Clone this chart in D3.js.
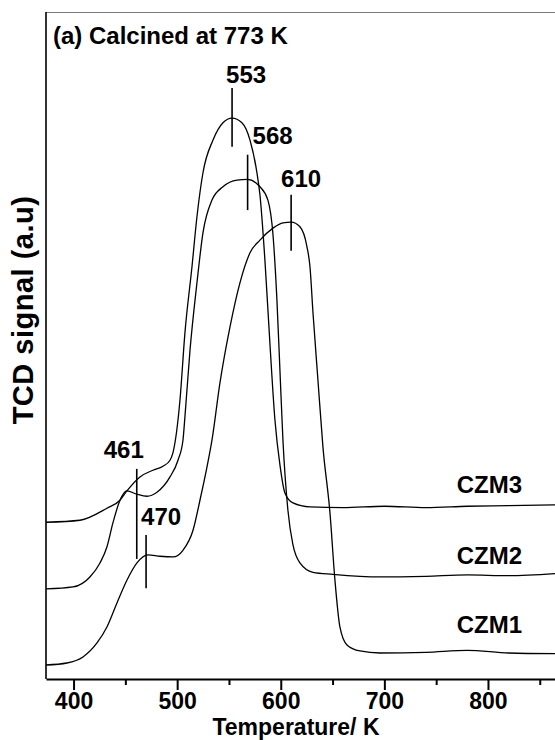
<!DOCTYPE html>
<html>
<head>
<meta charset="utf-8">
<script src="https://cdn.jsdelivr.net/npm/d3@7"></script>
<style>
  body { margin: 0; background: #fff; }
  svg { display: block; }
  text { font-family: "Liberation Sans", Arial, Helvetica, sans-serif; font-weight: bold; fill: #000; }
</style>
</head>
<body>
<svg id="chart" width="555" height="740"></svg>
<script>
// TPR profiles: [temperature (K), TCD signal (a.u.)]
const czm3 = [[373.4,23.5],[406.2,23.8],[432.2,25.6],[444.8,26.8],[451.5,28.2],[464.1,30.3],[476.6,31.3],[486.3,31.9],[493.1,32.8],[495.9,33.9],[502.7,41.8],[507.5,51.9],[514.3,61.8],[519.1,69.3],[524.9,75.9],[534.6,80.8],[544.2,83.4],[553,84.1],[562.5,83.4],[570.3,80.8],[577.0,75.9],[579.9,72.6],[584.7,62.8],[589.6,50.1],[594.4,38.8],[599.2,32.1],[604.0,27.9],[611.8,26.4],[628.2,25.8],[660,25.7],[700,25.9],[740,25.7],[780,25.9],[820,26.0],[864.7,26.1]];
const czm2 = [[373.4,13.5],[399.4,13.8],[415.8,15.3],[425.5,17.4],[432.2,19.8],[438.0,23.4],[444.8,26.8],[451.5,28.2],[461.2,27.7],[470.8,27.4],[480.5,28.0],[493.1,30.3],[500.8,32.8],[505.6,35.8],[507.5,39.3],[512.4,49.3],[519.1,59.4],[524.9,66.9],[533.6,71.8],[544.2,73.8],[557.7,74.8],[568,74.9],[579.9,73.8],[587.6,71.8],[592.5,66.6],[596.3,56.8],[599.2,46.3],[602.1,35.8],[606.9,25.3],[611.8,20.1],[618.5,17.4],[631.1,16.0],[650.4,15.7],[695.8,15.3],[740,15.4],[780,15.6],[820,15.5],[864.7,15.8]];
const czm1 = [[373.4,2.1],[393.6,2.4],[409.1,3.3],[422.6,5.4],[432.2,7.8],[441.9,11.4],[451.5,14.8],[461.2,17.4],[471.8,18.6],[483.4,18.4],[495.9,18.3],[505.6,19.3],[515.3,22.3],[522.0,26.8],[528.8,31.8],[533.6,35.8],[541.3,44.4],[551.0,52.8],[560.6,59.4],[570.3,63.9],[579.9,65.8],[592.5,67.6],[602.1,68.4],[610,68.5],[618.5,67.8],[625.3,64.8],[628.2,61.8],[631.1,54.9],[635.9,44.8],[640.7,34.8],[647.5,24.9],[652.3,14.8],[657.1,7.8],[663.9,5.1],[676.4,4.2],[695.8,3.9],[740,4.0],[780,4.3],[820,3.9],[864.7,3.8]];

const seriesNames = ["CZM1", "CZM2", "CZM3"];
const seriesData = [czm1, czm2, czm3];

// Peak maxima marked with vertical bars: temperature and signal span of each bar
const peakTemps = [553, 568, 610, 461, 470];
const peakTop = [88.6, 78.6, 72.6, 31.5, 21.6];
const peakBottom = [79.8, 70.3, 64.2, 18.0, 13.6];

const majorTicks = [400, 500, 600, 700, 800];
const minorTicks = [450, 550, 650, 750, 850];

const panelTitle = "(a) Calcined at 773 K";
const xTitle = "Temperature/ K";
const yTitle = "TCD signal (a.u)";

const plot = { left: 46, top: 12, right: 555, bottom: 679 };

const svg = d3.select("#chart");
const x = d3.scaleLinear().domain([373.4, 864.7]).range([plot.left, plot.right]);
const y = d3.scaleLinear().domain([0, 100]).range([plot.bottom, plot.top]);

// frame: thin grey top edge, black left edge
svg.append("line").attr("x1", plot.left).attr("x2", plot.right)
  .attr("y1", plot.top + 0.5).attr("y2", plot.top + 0.5)
  .attr("stroke", "#7a7a7a").attr("stroke-width", 1.2);
svg.append("line").attr("x1", plot.left).attr("x2", plot.left)
  .attr("y1", plot.top).attr("y2", plot.bottom)
  .attr("stroke", "#000").attr("stroke-width", 1.6);

// x axis: labelled major ticks plus unlabelled minor ticks
const xAxis = svg.append("g").attr("transform", `translate(0,${plot.bottom})`)
  .call(d3.axisBottom(x).tickValues(majorTicks).tickSize(11).tickSizeOuter(0).tickPadding(3).tickFormat(d3.format("d")));
xAxis.select(".domain").attr("stroke-width", 2);
xAxis.selectAll(".tick line").attr("stroke-width", 2);
xAxis.selectAll(".tick text").attr("font-size", 23).attr("font-family", null);
const xMinor = svg.append("g").attr("transform", `translate(0,${plot.bottom})`)
  .call(d3.axisBottom(x).tickValues(minorTicks).tickSize(6).tickFormat(""));
xMinor.select(".domain").remove();
xMinor.selectAll(".tick line").attr("stroke-width", 2);

// curves
const line = d3.line().x(d => x(d[0])).y(d => y(d[1])).curve(d3.curveMonotoneX);
svg.append("g").selectAll("path").data(seriesData).join("path")
  .attr("d", line).attr("fill", "none").attr("stroke", "#000").attr("stroke-width", 1.3);

// peak markers and their temperature labels
const labelOffset = [[14, -5], [25, -11], [10, -8], [-13, -11], [15, -10]];
peakTemps.forEach((t, i) => {
  svg.append("line").attr("x1", x(t)).attr("x2", x(t))
    .attr("y1", y(peakTop[i])).attr("y2", y(peakBottom[i]))
    .attr("stroke", "#000").attr("stroke-width", 1.6);
  svg.append("text").attr("x", x(t) + labelOffset[i][0]).attr("y", y(peakTop[i]) + labelOffset[i][1])
    .attr("text-anchor", "middle").attr("font-size", 24).text(t);
});

// sample names to the right, above each baseline
const nameBaseline = [633, 564, 493];
seriesNames.forEach((n, i) => {
  svg.append("text").attr("x", 522).attr("y", nameBaseline[i])
    .attr("text-anchor", "end").attr("font-size", 24).text(n);
});

// titles
svg.append("text").attr("x", 53).attr("y", 44).attr("font-size", 24).text(panelTitle);
svg.append("text").attr("x", 296).attr("y", 735).attr("text-anchor", "middle").attr("font-size", 23).text(xTitle);
svg.append("text").attr("transform", `translate(33,310) rotate(-90)`)
  .attr("text-anchor", "middle").attr("font-size", 29).attr("letter-spacing", 0.5).text(yTitle);
</script>
</body>
</html>
